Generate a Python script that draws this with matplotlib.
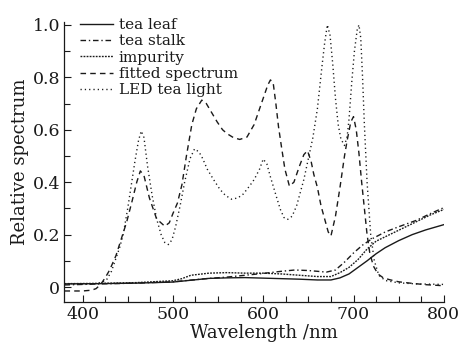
import matplotlib.pyplot as plt
from matplotlib.ticker import MultipleLocator, FuncFormatter

# data
leaf_wl = [380, 420, 460, 500, 520, 540, 560, 580, 600, 620, 640, 660, 675, 685,
           695, 705, 715, 725, 735, 750, 765, 780, 800]
leaf_val = [0.012, 0.013, 0.015, 0.019, 0.026, 0.033, 0.035, 0.036, 0.034, 0.032,
            0.030, 0.027, 0.027, 0.035, 0.050, 0.075, 0.100, 0.127, 0.150, 0.177,
            0.200, 0.218, 0.238]

stalk_wl = [380, 420, 460, 500, 540, 560, 580, 600, 620, 635, 650, 670, 680, 690,
            700, 710, 720, 735, 750, 770, 785, 800]
stalk_val = [0.008, 0.012, 0.015, 0.020, 0.033, 0.038, 0.045, 0.052, 0.060, 0.065,
             0.063, 0.057, 0.065, 0.095, 0.130, 0.160, 0.183, 0.210, 0.230, 0.255,
             0.280, 0.303]

impurity_wl = [380, 420, 460, 500, 510, 520, 540, 560, 580, 600, 620, 640, 660, 675,
               685, 695, 705, 715, 725, 740, 755, 770, 785, 800]
impurity_val = [0.013, 0.014, 0.017, 0.024, 0.032, 0.045, 0.053, 0.055, 0.053, 0.053,
                0.050, 0.045, 0.040, 0.040, 0.055, 0.075, 0.105, 0.145, 0.175, 0.200,
                0.225, 0.250, 0.275, 0.296]

fitted_wl = [380, 400, 410, 415, 420, 425, 430, 437, 443, 449, 455, 460, 464, 468,
             474, 482, 491, 496, 500, 505, 510, 515, 521, 526, 532, 537, 543, 549,
             555, 560, 567, 574, 582, 590, 595, 600, 605, 608, 611, 614, 617, 620,
             624, 629, 634, 640, 645, 649, 653, 656, 660, 664, 668, 672, 675, 680,
             685, 690, 693, 697, 700, 703, 706, 709, 712, 715, 718, 722, 727, 733,
             740, 750, 765, 780, 800]
fitted_val = [-0.015, -0.015, -0.012, -0.006, 0.010, 0.035, 0.065, 0.120, 0.185, 0.250,
              0.330, 0.400, 0.443, 0.425, 0.340, 0.260, 0.232, 0.245, 0.280, 0.320,
              0.390, 0.500, 0.620, 0.680, 0.713, 0.700, 0.665, 0.630, 0.600, 0.585,
              0.570, 0.563, 0.572, 0.620, 0.670, 0.720, 0.770, 0.790, 0.780, 0.700,
              0.610, 0.540, 0.450, 0.385, 0.400, 0.460, 0.505, 0.520, 0.480, 0.430,
              0.380, 0.310, 0.260, 0.210, 0.195, 0.270, 0.380, 0.500, 0.560, 0.630,
              0.650, 0.600, 0.510, 0.400, 0.300, 0.200, 0.130, 0.080, 0.050, 0.035,
              0.028, 0.020, 0.014, 0.009, 0.005]

led_wl = [380, 400, 415, 422, 427, 432, 437, 441, 445, 450, 454, 458, 462, 465, 468,
          472, 477, 482, 487, 491, 495, 499, 503, 508, 513, 519, 524, 529, 533, 538,
          545, 552, 558, 565, 572, 578, 585, 590, 596, 600, 604, 608, 611, 615, 619,
          623, 627, 632, 637, 641, 645, 650, 655, 660, 665, 668, 671, 674, 677, 680,
          683, 686, 690, 693, 695, 698, 701, 704, 706, 708, 710, 712, 715, 719, 723,
          728, 735, 750, 770, 800]
led_val = [0.012, 0.012, 0.013, 0.018, 0.030, 0.060, 0.110, 0.150, 0.200, 0.300, 0.390,
           0.480, 0.560, 0.595, 0.570, 0.460, 0.350, 0.260, 0.200, 0.170, 0.162, 0.180,
           0.230, 0.310, 0.400, 0.490, 0.527, 0.515, 0.490, 0.450, 0.410, 0.373, 0.350,
           0.335, 0.340, 0.355, 0.386, 0.410, 0.450, 0.488, 0.470, 0.420, 0.386, 0.340,
           0.296, 0.265, 0.258, 0.270, 0.310, 0.360, 0.410, 0.490, 0.570, 0.680, 0.840,
           0.930, 1.000, 0.960, 0.850, 0.720, 0.620, 0.565, 0.540, 0.575, 0.640, 0.780,
           0.900, 0.980, 1.000, 0.950, 0.800, 0.620, 0.400, 0.200, 0.100, 0.045, 0.025,
           0.016, 0.012, 0.010]

ink = '#1a1a1a'
plt.rcParams['font.family'] = ['DejaVu Serif']
plt.rcParams['mathtext.fontset'] = 'dejavuserif'

fig = plt.figure(figsize=(4.59, 3.46), dpi=100)
ax = fig.add_axes([0.1405, 0.1272, 0.8265, 0.8085])

lw = 1.0
ax.plot(leaf_wl, leaf_val, color=ink, lw=lw, linestyle='-', label='tea leaf')
ax.plot(stalk_wl, stalk_val, color=ink, lw=lw, linestyle=(0, (4, 2, 1, 2)), label='tea stalk')
ax.plot(impurity_wl, impurity_val, color=ink, lw=lw, linestyle=(0, (1.3, 0.9)), label='impurity')
ax.plot(fitted_wl, fitted_val, color=ink, lw=lw, linestyle=(0, (4, 3)), label='fitted spectrum')
ax.plot(led_wl, led_val, color=ink, lw=lw, linestyle=(0, (0.9, 2.2)), label='LED tea light')

ax.set_xlim(380, 800)
ax.set_ylim(-0.057, 1.01)

ax.xaxis.set_major_locator(MultipleLocator(100))
ax.xaxis.set_minor_locator(MultipleLocator(25))
ax.yaxis.set_major_locator(MultipleLocator(0.2))
ax.yaxis.set_minor_locator(MultipleLocator(0.1))
ax.yaxis.set_major_formatter(FuncFormatter(lambda v, p: '0' if abs(v) < 1e-9 else f'{v:.1f}'))

ax.tick_params(which='both', direction='in', colors=ink, labelsize=12.5)
ax.tick_params(which='major', length=5, width=0.8, pad=3)
ax.tick_params(which='minor', length=4, width=0.8)

for side in ['top', 'right']:
    ax.spines[side].set_visible(False)
for side in ['left', 'bottom']:
    ax.spines[side].set_color(ink)
    ax.spines[side].set_linewidth(0.9)

ax.set_xlabel('Wavelength /nm', fontsize=13, color=ink, labelpad=0)
ax.set_ylabel('Relative spectrum', fontsize=13, color=ink, labelpad=3)
ax.xaxis.set_label_coords(0.525, -0.08)

ax.legend(loc='upper left', bbox_to_anchor=(0.04, 1.015), frameon=False, fontsize=11,
          handlelength=2.2, handletextpad=0.35, labelspacing=0.15, borderpad=0,
          borderaxespad=0, labelcolor=ink)

fig.savefig('out.png', dpi=100)
